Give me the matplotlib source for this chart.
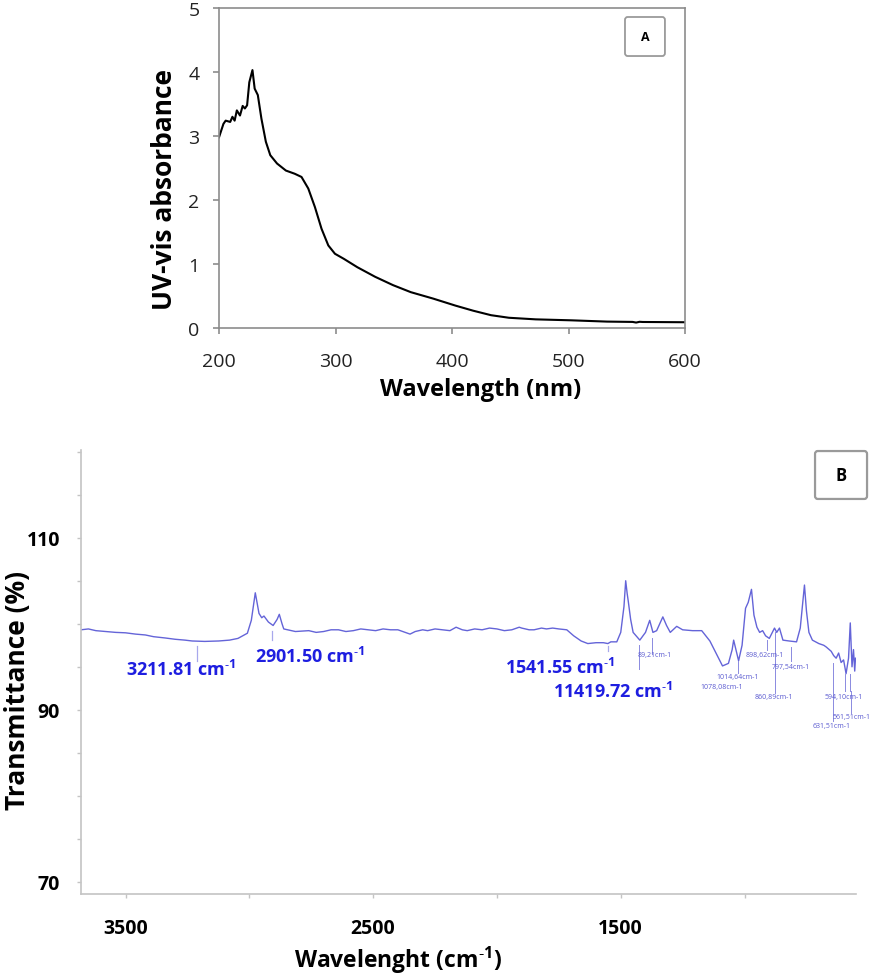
import matplotlib
matplotlib.use("Agg")
import matplotlib.pyplot as plt
from matplotlib.patches import FancyBboxPatch

plt.rcParams['font.family'] = ['Open Sans', 'DejaVu Sans']

# --- panel A: UV-vis spectrum
uv_wl = [200, 203.8, 205.7, 209.6, 211.5, 213.4, 215.3, 218, 220.3, 222.2, 224.1, 226, 228.7,
         230.6, 233.3, 236.4, 240.2, 244, 249.8, 257.4, 265, 270.8, 276.6, 282.3, 288, 293.8,
         299.5, 307.2, 318.7, 334, 349.3, 364.6, 383.7, 402.9, 418.2, 433.5, 448.8, 471.8,
         502.4, 533, 555, 558, 561, 563.7, 600]
uv_abs = [2.98, 3.19, 3.24, 3.22, 3.30, 3.24, 3.40, 3.32, 3.47, 3.43, 3.48, 3.84, 4.03,
          3.74, 3.64, 3.27, 2.91, 2.70, 2.57, 2.46, 2.41, 2.36, 2.18, 1.89, 1.55, 1.29,
          1.16, 1.08, 0.95, 0.80, 0.67, 0.56, 0.46, 0.35, 0.27, 0.20, 0.16, 0.135,
          0.12, 0.10, 0.095, 0.085, 0.097, 0.094, 0.09]

# --- panel B: FTIR spectrum
ir_wn = [3680, 3650, 3620, 3580, 3540, 3500, 3460, 3420, 3387, 3340, 3300, 3260, 3231, 3180,
         3124, 3080, 3046, 3008, 2992, 2976, 2961, 2950, 2941, 2923, 2904, 2888, 2879, 2868,
         2861, 2814, 2760, 2730, 2700, 2670, 2640, 2610, 2580, 2550, 2520, 2490, 2460, 2430,
         2400, 2370, 2351, 2330, 2300, 2280, 2250, 2220, 2190, 2165, 2140, 2120, 2090, 2060,
         2030, 2000, 1970, 1940, 1910, 1900, 1870, 1850, 1820, 1800, 1775, 1750, 1718, 1690,
         1660, 1633, 1600, 1570, 1552, 1540, 1516, 1500, 1487, 1480, 1474, 1470, 1460, 1450,
         1423, 1400, 1383, 1370, 1355, 1330, 1315, 1300, 1274, 1250, 1210, 1173, 1140, 1110,
         1089, 1065, 1050, 1044, 1035, 1024, 1010, 996, 985, 972, 962, 950, 939, 927, 915,
         900, 879, 870, 859, 845, 820, 790, 775, 765, 758, 750, 740, 726, 700, 680, 670, 650,
         640, 630, 620, 610, 600, 590, 580, 573, 566, 560, 555, 552]
ir_tr = [99.3, 99.4, 99.2, 99.1, 99.0, 98.95, 98.8, 98.7, 98.5, 98.35, 98.2, 98.1, 98.0, 97.95,
         98.0, 98.1, 98.3, 98.9, 100.4, 103.6, 101.2, 100.7, 100.9, 100.2, 99.8, 100.5, 101.1, 100.0,
         99.4, 99.1, 99.2, 99.0, 99.1, 99.3, 99.3, 99.1, 99.2, 99.4, 99.3, 99.2, 99.4, 99.3,
         99.3, 99.0, 98.8, 99.1, 99.3, 99.2, 99.4, 99.3, 99.2, 99.6, 99.3, 99.2, 99.4, 99.3,
         99.5, 99.4, 99.2, 99.3, 99.6, 99.5, 99.3, 99.3, 99.5, 99.4, 99.5, 99.4, 99.3, 98.6,
         98.0, 97.7, 97.8, 97.8, 97.7, 97.9, 97.9, 99.0, 102.0, 105.0, 103.5, 102.7, 100.5, 99.0,
         98.1, 99.0, 100.4, 99.0, 99.2, 100.8, 99.8, 99.0, 99.7, 99.3, 99.2, 99.2, 98.0, 96.3,
         95.1, 95.4, 97.0, 98.1, 97.0, 95.7, 97.5, 101.8, 102.5, 104.0, 101.0, 99.6, 99.0, 99.2, 98.6,
         98.3, 99.5, 99.0, 99.5, 98.1, 98.0, 97.9, 99.5, 102.5, 104.5, 101.5, 99.0, 98.1, 97.7, 97.5, 97.3, 96.8,
         96.3, 96.0, 96.6, 95.5, 95.8, 94.2, 96.0, 100.1, 95.0, 97.0, 94.5, 96.0]

# big peak labels: text, text position (wn, %T), marker line (wn, %T top, %T bottom)
sup = 'cm$^{\\mathregular{\u20101}}$'
big_labels = ['3211.81 ' + sup, '2901.50 ' + sup, '1541.55 ' + sup, '11419.72 ' + sup]
big_pos = [(3500, 94.8), (2976, 96.3), (1968, 95.0), (1774, 92.2)]
big_lines = [(3213, 97.4, 95.7), (2907, 99.2, 98.1), (1552, 97.4, 96.8)]

small_labels = ['89,21cm-1', '1014,64cm-1', '1078,08cm-1', '898,62cm-1', '797,54cm-1',
                '860,89cm-1', '594,10cm-1', '561,51cm-1', '631,51cm-1']
small_pos = [(1431, 96.4), (1113, 93.9), (1177, 92.7), (996, 96.4), (891, 95.0),
             (960, 91.5), (677, 91.6), (645, 89.2), (726, 88.2)]
small_lines = [(1427, 97.5, 94.8), (1375, 98.4, 96.5), (1028, 95.7, 94.3), (911, 98.1, 96.9),
               (811, 97.3, 95.7), (875, 99.0, 91.9), (593, 94.2, 92.2), (573, 94.2, 92.2),
               (569, 92.2, 89.6), (641, 95.4, 88.7)]

fig = plt.figure(figsize=(8.86, 9.78), dpi=100)

# ---------- A
axA = fig.add_axes([0.2472, 0.6636, 0.5260, 0.3272])
axA.plot(uv_wl, uv_abs, color='black', lw=1.5)
axA.set_xlim(200, 600)
axA.set_ylim(0, 5)
axA.set_xticks([200, 300, 400, 500, 600])
axA.set_yticks([0, 1, 2, 3, 4, 5])
for s in axA.spines.values():
    s.set_color('#8c8c8c')
    s.set_linewidth(1.2)
axA.tick_params(direction='out', length=4, width=1.2, color='#8c8c8c', labelsize=14,
                labelcolor='#222222')
axA.tick_params(axis='x', pad=13)
axA.tick_params(axis='y', pad=10)
fig.text(481 / 886, 1 - 390 / 978, 'Wavelength (nm)', fontsize=17, fontweight='bold',
         ha='center', va='center')
fig.text(165 / 886, 1 - 190 / 978, 'UV-vis absorbance', fontsize=19, fontweight='bold',
         ha='center', va='center', rotation=90)

boxA = FancyBboxPatch((0.7054, 0.9417), 0.0451, 0.0399, boxstyle='round,pad=0,rounding_size=0.003',
                      transform=fig.transFigure, fc='white', ec='#9a9a9a', lw=1.3)
fig.add_artist(boxA)
fig.text(0.7054 + 0.0451 / 2, 0.9417 + 0.0399 / 2, 'A', ha='center', va='center',
         fontsize=9, fontweight='bold')

# ---------- B
axB = fig.add_axes([0.0914, 0.0849, 0.8747, 0.4540])
blue_line = '#6464d8'
axB.plot(ir_wn, ir_tr, color=blue_line, lw=1.0)
axB.set_xlim(3680, 550)
axB.set_ylim(68.6, 120.2)
axB.set_xticks([3500, 2500, 1500])
axB.set_xticks([3000, 2000, 1000], minor=True)
axB.set_yticks([70, 90, 110])
axB.set_yticks([75, 80, 85, 95, 100, 105, 115, 120], minor=True)
for side in ['top', 'right']:
    axB.spines[side].set_visible(False)
for side in ['left', 'bottom']:
    axB.spines[side].set_color('#c4c4c4')
    axB.spines[side].set_linewidth(1.2)
axB.tick_params(which='both', direction='out', length=3, width=1, color='#c4c4c4')
axB.tick_params(which='major', labelsize=14, labelcolor='black')
axB.tick_params(axis='x', which='major', pad=14)
axB.tick_params(axis='y', which='major', pad=12)
for lab in axB.get_xticklabels() + axB.get_yticklabels():
    lab.set_fontweight('bold')
fig.text(398 / 886, 1 - 968 / 978, 'Wavelenght (' + sup + ')', fontsize=16.5, fontweight='bold',
         ha='center', va='baseline')
fig.text(18 / 886, 1 - 690 / 978, 'Transmittance (%)', fontsize=19, fontweight='bold',
         ha='center', va='center', rotation=90)

for txt, (x, y) in zip(big_labels, big_pos):
    axB.text(x, y, txt, color='#1e1ee0', fontsize=13, fontweight='bold', ha='left', va='center')
for x, y0, y1 in big_lines:
    axB.plot([x, x], [y0, y1], color='#a8a8ec', lw=0.9)
for txt, (x, y) in zip(small_labels, small_pos):
    axB.text(x, y, txt, color='#5a5ad0', fontsize=5, ha='left', va='center')
for x, y0, y1 in small_lines:
    axB.plot([x, x], [y0, y1], color='#8a8ae0', lw=0.7)

boxB = FancyBboxPatch((0.9199, 0.4888), 0.0587, 0.0490, boxstyle='round,pad=0,rounding_size=0.003',
                      transform=fig.transFigure, fc='white', ec='#9a9a9a', lw=1.6)
fig.add_artist(boxB)
fig.text(0.9199 + 0.0587 / 2, 0.4888 + 0.0490 / 2, 'B', ha='center', va='center',
         fontsize=12, fontweight='bold')

fig.savefig('out.png', dpi=100)
